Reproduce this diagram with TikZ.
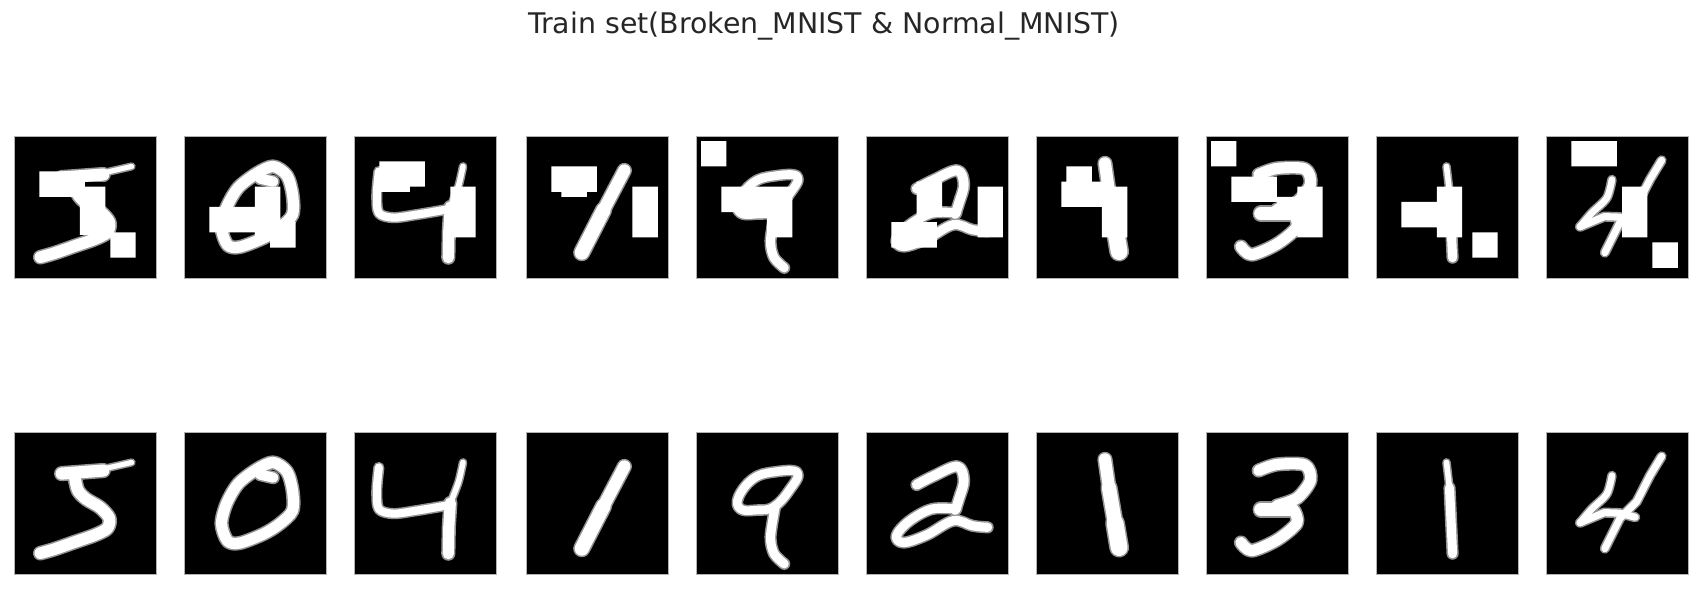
\documentclass[tikz,border=0pt]{standalone}
\usepackage{fontspec}
\setmainfont{DejaVu Sans}
\newlength{\cell}
\setlength{\cell}{5.07pt}
\tikzset{
  penmain/.style={draw=white, line width=#1*\cell, line cap=round, line join=round},
  penhalo/.style={draw=gray!85, line width=#1*\cell+.6*\cell, line cap=round, line join=round},
  patch/.style={fill=white},
  frame/.style={fill=black, draw=gray!60, line width=.6pt},
  heading/.style={font=\fontsize{28.4}{32}\selectfont, anchor=base, inner sep=0pt, text=black!85}
}
% x, y, digit, patches
\newcommand{\Panel}[4]{%
  \begin{scope}[shift={(#1,#2)}, x=\cell, y=-\cell]
    \path[frame] (0,0) rectangle (28,28);
    \begin{scope}[pen/.style={penhalo=##1}] #3 \end{scope}
    \begin{scope}[pen/.style={penmain=##1}] #3 \end{scope}
    #4
  \end{scope}}
% The digits, on the 28 x 28 grid of a panel
\newcommand{\DigitFive}{%
  \draw[pen=2.4] (9.4,8.2) -- (17.6,7.6);
  \draw[pen=1.0] (18,7.2) -- (23.2,6);
  \draw[pen=2.3] plot[smooth] coordinates {(12,9) (12.6,11.5) (14.2,13.2) (17,14.9) (18.8,17) (18.4,19) (16,20.3) (12,21.7) (8,23.1) (5.2,23.9)};}
\newcommand{\DigitZero}{%
  \draw[pen=2.2] plot[smooth cycle] coordinates {(17.6,6) (20.3,7.8) (21.4,11.5) (21.4,15.5) (18.9,18.1) (15.7,20.1) (11,21.9) (8.6,21.5) (7.4,18.1) (8.4,14.1) (10.7,10.2) (14.3,7.4)};
  \draw[pen=2] (15,8.4) -- (17.6,9);}
\newcommand{\DigitFour}{%
  \draw[pen=1.6] plot[smooth] coordinates {(4.9,7) (4.5,11.5) (4.9,15.2) (7.8,16.1) (12.4,15.5) (18.3,14.5)};
  \draw[pen=1.1] plot[smooth] coordinates {(21.5,6) (20.6,9.9) (19,14)};
  \draw[pen=2.2] (19,14) -- (18.7,18.7) -- (18.6,24);}
\newcommand{\DigitOneA}{%
  \draw[pen=2.4] (19.4,6.8) -- (15.3,14.6);
  \draw[pen=2.8] (15.3,14.6) -- (11,23);}
\newcommand{\DigitNine}{%
  \draw[pen=1.7] plot[smooth cycle, tension=.7] coordinates {(20,8) (15.3,7.9) (11.3,9.2) (8.4,12.8) (8.8,15.2) (12,15.4) (15.3,14.8) (18.4,11.5)};
  \draw[pen=1.8] plot[smooth] coordinates {(15.6,14.8) (14.7,20.7) (15.4,24) (17.4,26)};}
\newcommand{\DigitTwo}{%
  \draw[pen=1.9] plot[smooth, tension=.6] coordinates {(10,10.4) (13.3,8.7) (18,6.8) (19.3,9.5) (18.4,13) (17.6,15.4)};
  \draw[pen=1.8] plot[smooth, tension=.6] coordinates {(17.8,15.2) (13,15.2) (8.5,17.6) (6,20.5) (7.5,21.8) (12,20.3) (17.2,17.5) (21,18.5) (24,18.8)};}
\newcommand{\DigitOneB}{%
  \draw[pen=2.4] (13.6,5.4) -- (14.4,11);
  \draw[pen=2.8] (14.4,11) -- (15.6,18);
  \draw[pen=3.3] (15.6,18) -- (16.4,22.8);}
\newcommand{\DigitThree}{%
  \draw[pen=2.2] plot[smooth] coordinates {(10.4,7.6) (14,6.4) (19.5,6.5) (20.6,9.5) (18,13) (14,14.5)};
  \draw[pen=2.6] (10.8,15.3) -- (17,15.3);
  \draw[pen=2.2] plot[smooth] coordinates {(17.4,15.5) (17.9,18) (14,21.3) (9,23.4) (6.9,21.8)};}
\newcommand{\DigitOneC}{%
  \draw[pen=1.1] (13.9,6) -- (14.5,11);
  \draw[pen=1.8] (14.5,11) -- (15.1,24);}
\newcommand{\DigitFourB}{%
  \draw[pen=1.4] (22.8,4.8) -- (20.5,8.6) -- (17.9,13.7) -- (14.6,17) -- (11.6,23);
  \draw[pen=1.3] plot[smooth] coordinates {(13,8.6) (12,12.2) (9,15.2) (6.7,17.9)};
  \draw[pen=1.4] (6.7,17.9) -- (11.5,15.9) -- (14.5,16) -- (17.6,16.8);}
\begin{document}
\begin{tikzpicture}[x=1pt, y=-1pt]
\useasboundingbox (0,0) rectangle (1692,592);

\node[heading] (title) at (824,33) {Train set(Broken\_MNIST \& Normal\_MNIST)};

% Broken row
\Panel{14}{136}{\DigitFive}{%
  \fill[patch] (5,7) rectangle (14,12) (13,10) rectangle (18,19.5) (19,19) rectangle (24,24);
  \fill[black] (14,9) rectangle (17.5,9.7);}
\Panel{184}{136}{\DigitZero}{%
  \fill[patch] (5,14) rectangle (14,19) (14,10) rectangle (19,20) (17,17) rectangle (22,22);}
\Panel{354}{136}{\DigitFour}{%
  \fill[patch] (5,5) rectangle (14,10) (5,10) rectangle (11,11) (19,10) rectangle (24,20);}
\Panel{526}{136}{\DigitOneA}{%
  \fill[patch] (5,6) rectangle (14,11) (7,11) rectangle (12,12) (21,10) rectangle (26,20);}
\Panel{696}{136}{\DigitNine}{%
  \fill[patch] (1,1) rectangle (6,6) (5,10) rectangle (14,15) (14,10) rectangle (19,20);}
\Panel{866}{136}{\DigitTwo}{%
  \fill[patch] (22,10) rectangle (27,20) (5,17) rectangle (14,22) (10,9) rectangle (15,16);}
\Panel{1036}{136}{\DigitOneB}{%
  \fill[patch] (6,6) rectangle (11,9) (5,9) rectangle (13,14) (13,10) rectangle (18,20);}
\Panel{1206}{136}{\DigitThree}{%
  \fill[patch] (1,1) rectangle (6,6) (5,8) rectangle (14,13) (14,12) rectangle (18,15) (18,10) rectangle (23,20);}
\Panel{1376}{136}{\DigitOneC}{%
  \fill[patch] (5,13) rectangle (12,18) (12,10) rectangle (17,20) (19,19) rectangle (24,24);}
\Panel{1546}{136}{\DigitFourB}{%
  \fill[patch] (5,1) rectangle (14,6) (15,10) rectangle (20,20) (21,21) rectangle (26,26);}

% Normal row
\foreach \px/\digit in {14/\DigitFive, 184/\DigitZero, 354/\DigitFour, 526/\DigitOneA, 696/\DigitNine,
    866/\DigitTwo, 1036/\DigitOneB, 1206/\DigitThree, 1376/\DigitOneC, 1546/\DigitFourB}
  {\Panel{\px}{432}{\digit}{}}
\end{tikzpicture}
\end{document}
